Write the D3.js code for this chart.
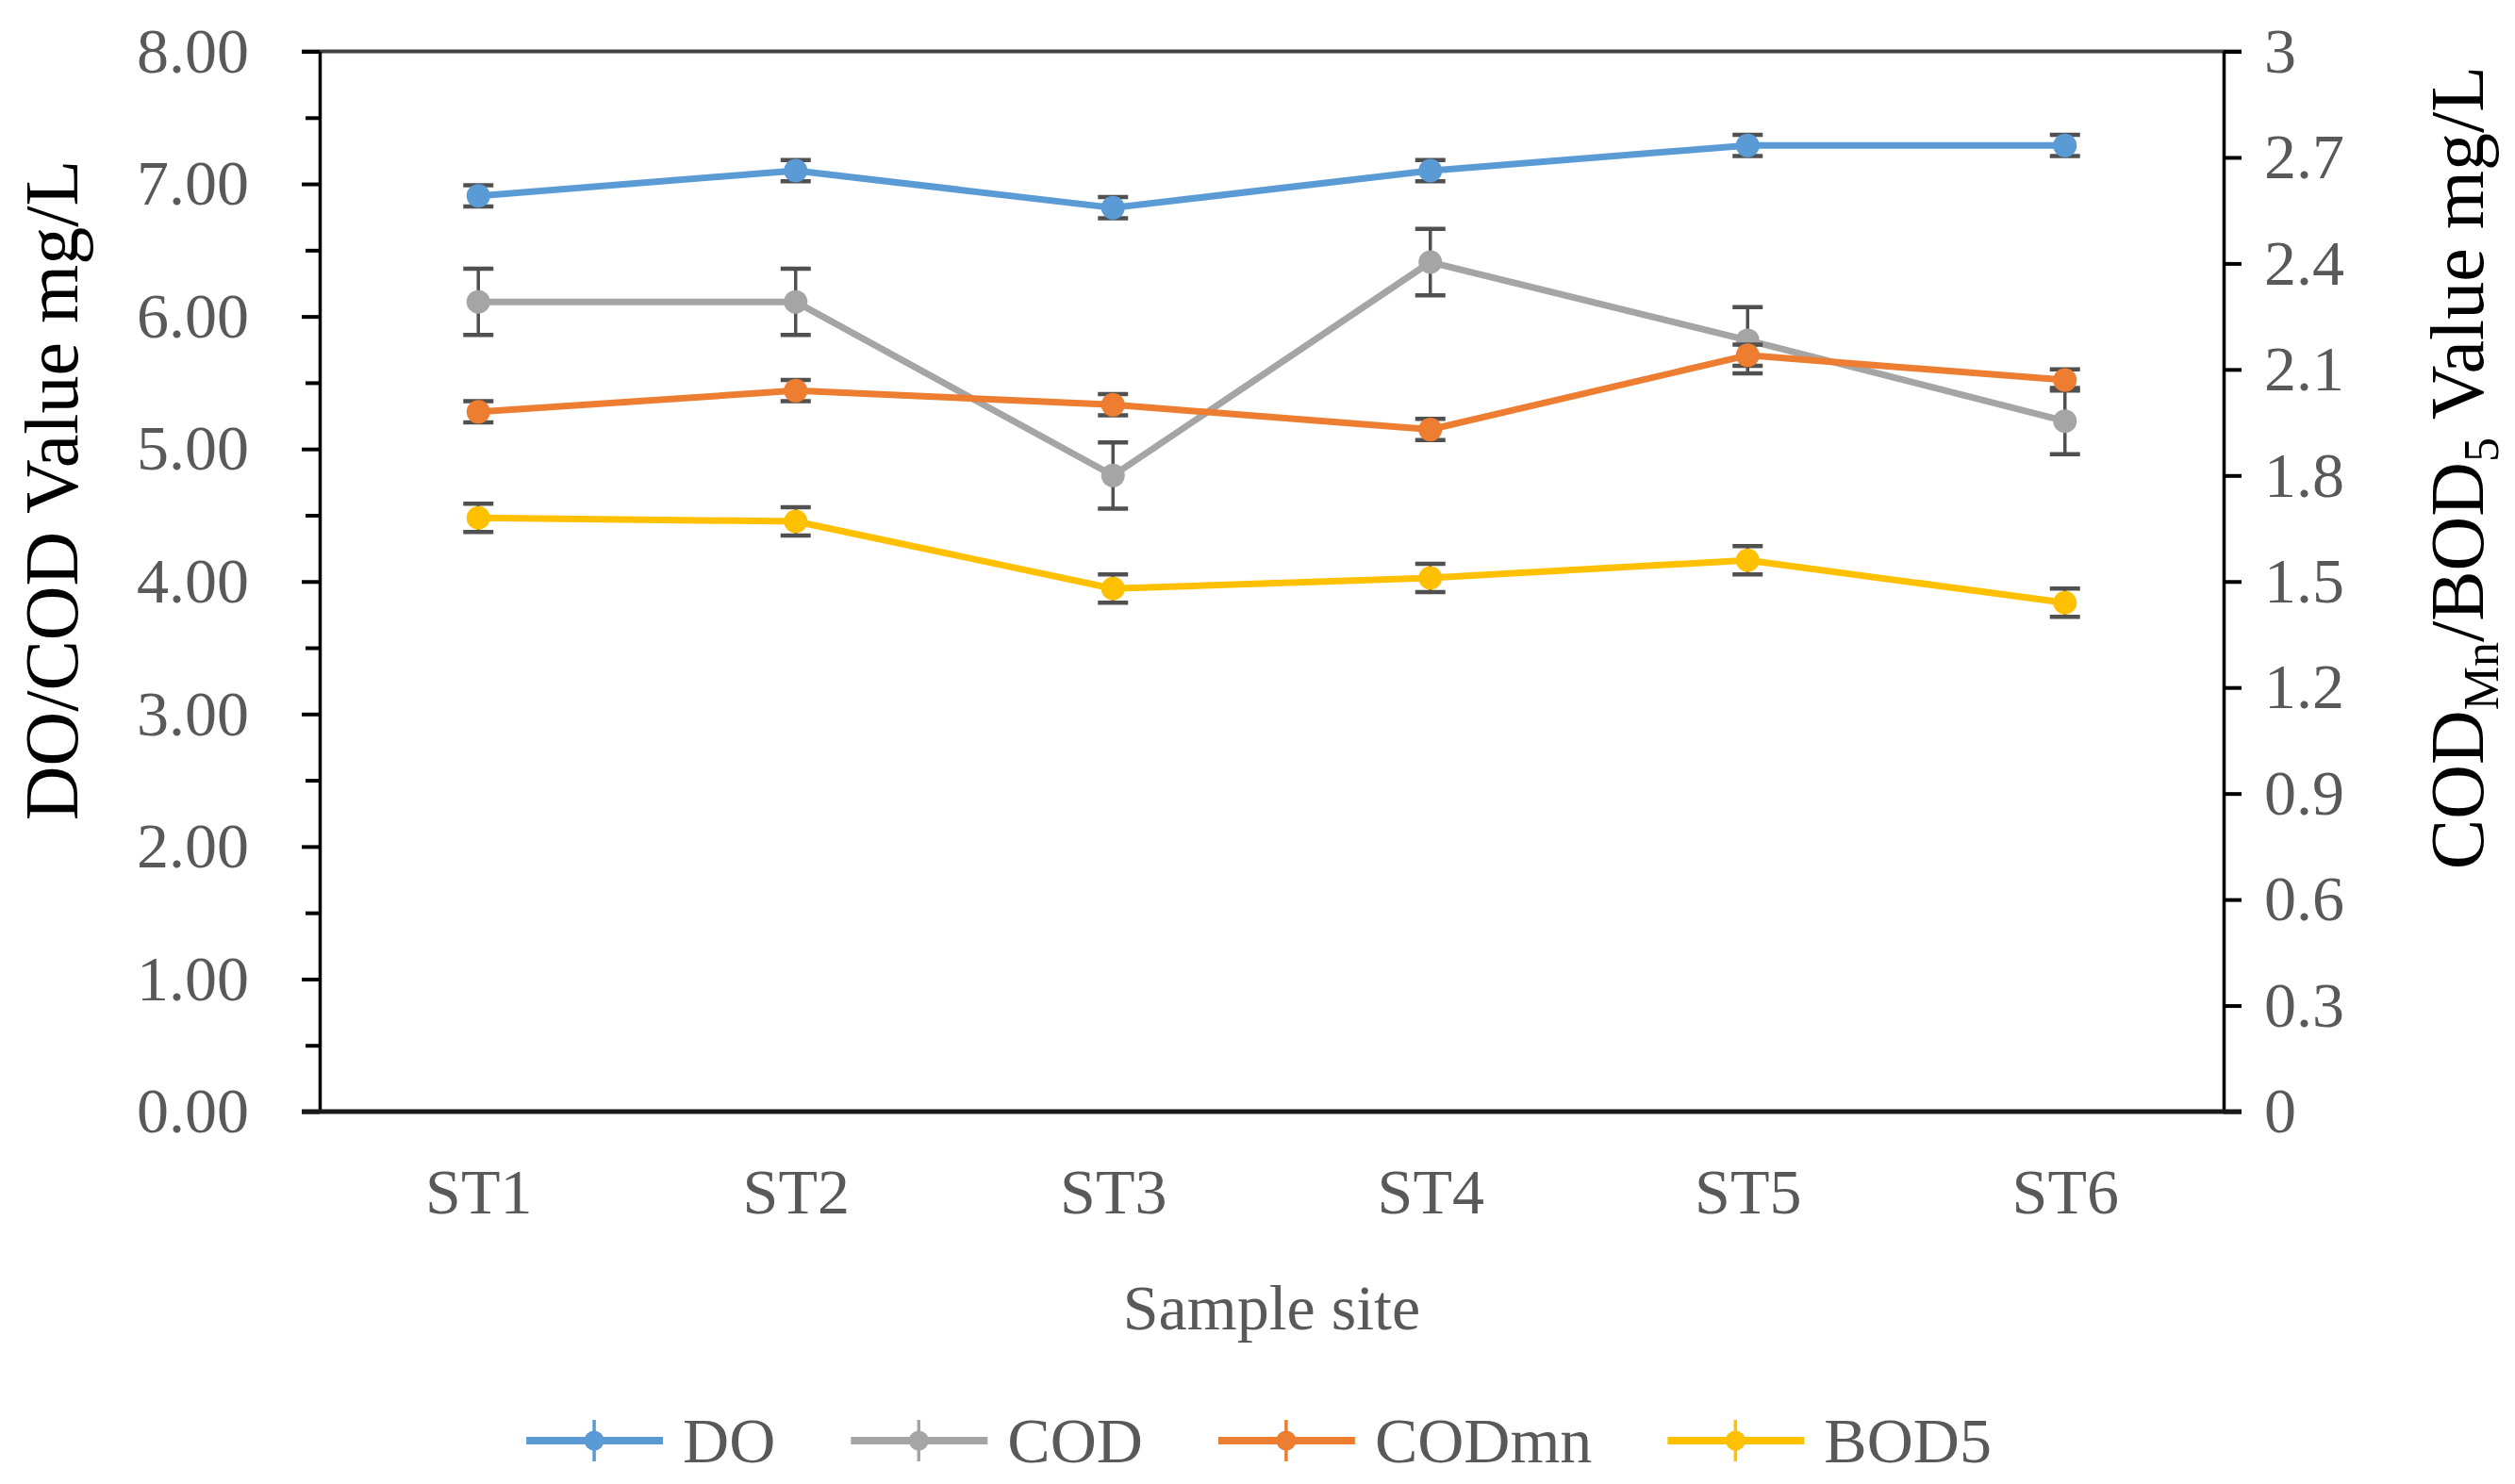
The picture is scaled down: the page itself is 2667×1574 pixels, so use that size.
<!DOCTYPE html>
<html lang="en">
<head>
  <meta charset="UTF-8">
  <title>Water quality by sample site</title>
  <script src="https://d3js.org/d3.v7.min.js"></script>
  <style>
    body { margin: 0; background: #fff; }
    svg text { font-family: "Liberation Serif", "DejaVu Serif", serif; }
  </style>
</head>
<body>
<div id="chart"></div>
<script>
// sample sites on the x axis
var sites = ["ST1", "ST2", "ST3", "ST4", "ST5", "ST6"];

// left axis series (DO / COD, mg/L)
var doVals  = [6.91, 7.10, 6.82, 7.10, 7.29, 7.29];
var doErr   = [0.08, 0.08, 0.08, 0.08, 0.08, 0.08];
var codVals = [6.11, 6.11, 4.80, 6.41, 5.82, 5.21];
var codErr  = [0.25, 0.25, 0.25, 0.25, 0.25, 0.25];

// right axis series (CODmn / BOD5, mg/L)
var codmnVals = [1.98, 2.04, 2.00, 1.93, 2.14, 2.07];
var codmnErr  = [0.03, 0.03, 0.03, 0.03, 0.03, 0.03];
var bod5Vals  = [1.68, 1.67, 1.48, 1.51, 1.56, 1.44];
var bod5Err   = [0.04, 0.04, 0.04, 0.04, 0.04, 0.04];

// tick values
var leftMajor  = [0, 1, 2, 3, 4, 5, 6, 7, 8];
var leftMinor  = [0.5, 1.5, 2.5, 3.5, 4.5, 5.5, 6.5, 7.5];
var rightTicks = [0, 0.3, 0.6, 0.9, 1.2, 1.5, 1.8, 2.1, 2.4, 2.7, 3];

var width = 2667, height = 1574;
// plot area edges (note: "top" is a reserved window property, so prefixed names)
var plotLeft = 339, plotRight = 2358, plotTop = 54.5, plotBottom = 1179;
var labelGrey = "#595959";

var svg = d3.select("#chart").append("svg")
  .attr("width", width)
  .attr("height", height);

// scales
var x = d3.scalePoint().domain(sites).range([plotLeft, plotRight]).padding(0.5);
var yLeft = d3.scaleLinear().domain([0, 8]).range([plotBottom, plotTop]);
var yRight = d3.scaleLinear().domain([0, 3]).range([plotBottom, plotTop]);

// top border line
svg.append("line")
  .attr("x1", plotLeft - 19).attr("x2", plotRight + 19)
  .attr("y1", plotTop).attr("y2", plotTop)
  .attr("stroke", "#404040").attr("stroke-width", 4);

// left axis, minor ticks first
svg.append("g")
  .attr("transform", "translate(" + plotLeft + ",0)")
  .call(d3.axisLeft(yLeft).tickValues(leftMinor).tickSize(15).tickSizeOuter(0).tickFormat(""))
  .call(function(g){ g.select(".domain").remove(); })
  .selectAll("line").attr("stroke", "#000").attr("stroke-width", 4);

var leftAxis = svg.append("g")
  .attr("transform", "translate(" + plotLeft + ",0)")
  .call(d3.axisLeft(yLeft).tickValues(leftMajor).tickSize(19).tickSizeOuter(0)
    .tickPadding(56).tickFormat(function(d){ return d.toFixed(2); }));
leftAxis.select(".domain").attr("stroke", "#000").attr("stroke-width", 3.5);
leftAxis.selectAll("line").attr("stroke", "#000").attr("stroke-width", 4);
leftAxis.selectAll("text").attr("font-size", 68).attr("fill", labelGrey)
  .style("font-family", "Liberation Serif");

// right axis
var rightAxis = svg.append("g")
  .attr("transform", "translate(" + plotRight + ",0)")
  .call(d3.axisRight(yRight).tickValues(rightTicks).tickSize(19).tickSizeOuter(0)
    .tickPadding(24).tickFormat(function(d){ return String(d); }));
rightAxis.select(".domain").attr("stroke", "#000").attr("stroke-width", 3.5);
rightAxis.selectAll("line").attr("stroke", "#000").attr("stroke-width", 4);
rightAxis.selectAll("text").attr("font-size", 68).attr("fill", labelGrey)
  .style("font-family", "Liberation Serif");

// x axis
var xAxis = svg.append("g")
  .attr("transform", "translate(0," + plotBottom + ")")
  .call(d3.axisBottom(x).tickSize(0).tickPadding(60));
xAxis.select(".domain").remove();
xAxis.selectAll("text").attr("font-size", 68).attr("fill", labelGrey)
  .style("font-family", "Liberation Serif");

// bottom line
svg.append("line")
  .attr("x1", plotLeft - 19).attr("x2", plotRight + 19)
  .attr("y1", plotBottom).attr("y2", plotBottom)
  .attr("stroke", "#1a1a1a").attr("stroke-width", 5);

// series
var series = [
  {name: "DO",    vals: doVals,    err: doErr,    y: yLeft,  color: "#5B9BD5"},
  {name: "COD",   vals: codVals,   err: codErr,   y: yLeft,  color: "#A5A5A5"},
  {name: "CODmn", vals: codmnVals, err: codmnErr, y: yRight, color: "#ED7D31"},
  {name: "BOD5",  vals: bod5Vals,  err: bod5Err,  y: yRight, color: "#FFC000"}
];

series.forEach(function(s){
  var pts = sites.map(function(site, i){
    return {site: site, v: s.vals[i], e: s.err[i]};
  });
  var line = d3.line()
    .x(function(d){ return x(d.site); })
    .y(function(d){ return s.y(d.v); });
  var g = svg.append("g");
  g.append("path")
    .datum(pts)
    .attr("d", line)
    .attr("fill", "none")
    .attr("stroke", s.color)
    .attr("stroke-width", 7)
    .attr("stroke-linejoin", "round");
  // error bars
  var eb = g.selectAll(".eb").data(pts).enter().append("g").attr("class", "eb");
  eb.append("line")
    .attr("x1", function(d){ return x(d.site); })
    .attr("x2", function(d){ return x(d.site); })
    .attr("y1", function(d){ return s.y(d.v - d.e); })
    .attr("y2", function(d){ return s.y(d.v + d.e); })
    .attr("stroke", "#505050").attr("stroke-width", 3.5);
  [-1, 1].forEach(function(sign){
    eb.append("line")
      .attr("x1", function(d){ return x(d.site) - 16; })
      .attr("x2", function(d){ return x(d.site) + 16; })
      .attr("y1", function(d){ return s.y(d.v + sign * d.e); })
      .attr("y2", function(d){ return s.y(d.v + sign * d.e); })
      .attr("stroke", "#505050").attr("stroke-width", 4.5);
  });
  // markers
  g.selectAll("circle").data(pts).enter().append("circle")
    .attr("cx", function(d){ return x(d.site); })
    .attr("cy", function(d){ return s.y(d.v); })
    .attr("r", 12.5)
    .attr("fill", s.color);
});

// axis titles
svg.append("text")
  .attr("transform", "translate(82,520) rotate(-90)")
  .attr("text-anchor", "middle")
  .attr("font-size", 80)
  .attr("fill", "#000")
  .text("DO/COD Value mg/L");

var rt = svg.append("text")
  .attr("transform", "translate(2633,496) rotate(-90)")
  .attr("text-anchor", "middle")
  .attr("font-size", 80)
  .attr("fill", "#000");
rt.append("tspan").text("COD");
rt.append("tspan").attr("font-size", 52).attr("dy", 16).text("Mn");
rt.append("tspan").attr("dy", -16).text("/BOD");
rt.append("tspan").attr("font-size", 52).attr("dy", 16).text("5");
rt.append("tspan").attr("dy", -16).text(" Value mg/L");

svg.append("text")
  .attr("x", (plotLeft + plotRight) / 2)
  .attr("y", 1410)
  .attr("text-anchor", "middle")
  .attr("font-size", 68)
  .attr("fill", labelGrey)
  .text("Sample site");

// legend
var legend = svg.append("g");
var legendY = 1528;
var cursor = 0;
series.forEach(function(s){
  var item = legend.append("g").attr("transform", "translate(" + cursor + "," + legendY + ")");
  item.append("line")
    .attr("x1", 0).attr("x2", 145).attr("y1", 0).attr("y2", 0)
    .attr("stroke", s.color).attr("stroke-width", 8);
  item.append("line")
    .attr("x1", 72).attr("x2", 72).attr("y1", -22).attr("y2", 22)
    .attr("stroke", s.color).attr("stroke-width", 3.5);
  item.append("circle")
    .attr("cx", 72).attr("cy", 0).attr("r", 10.5).attr("fill", s.color);
  var t = item.append("text")
    .attr("x", 166).attr("y", 0).attr("dy", "0.34em")
    .attr("font-size", 68).attr("fill", labelGrey)
    .text(s.name);
  cursor += 166 + t.node().getComputedTextLength() + 80;
});
var legendWidth = cursor - 80;
legend.attr("transform", "translate(" + (1335 - legendWidth / 2) + ",0)");
</script>
</body>
</html>
